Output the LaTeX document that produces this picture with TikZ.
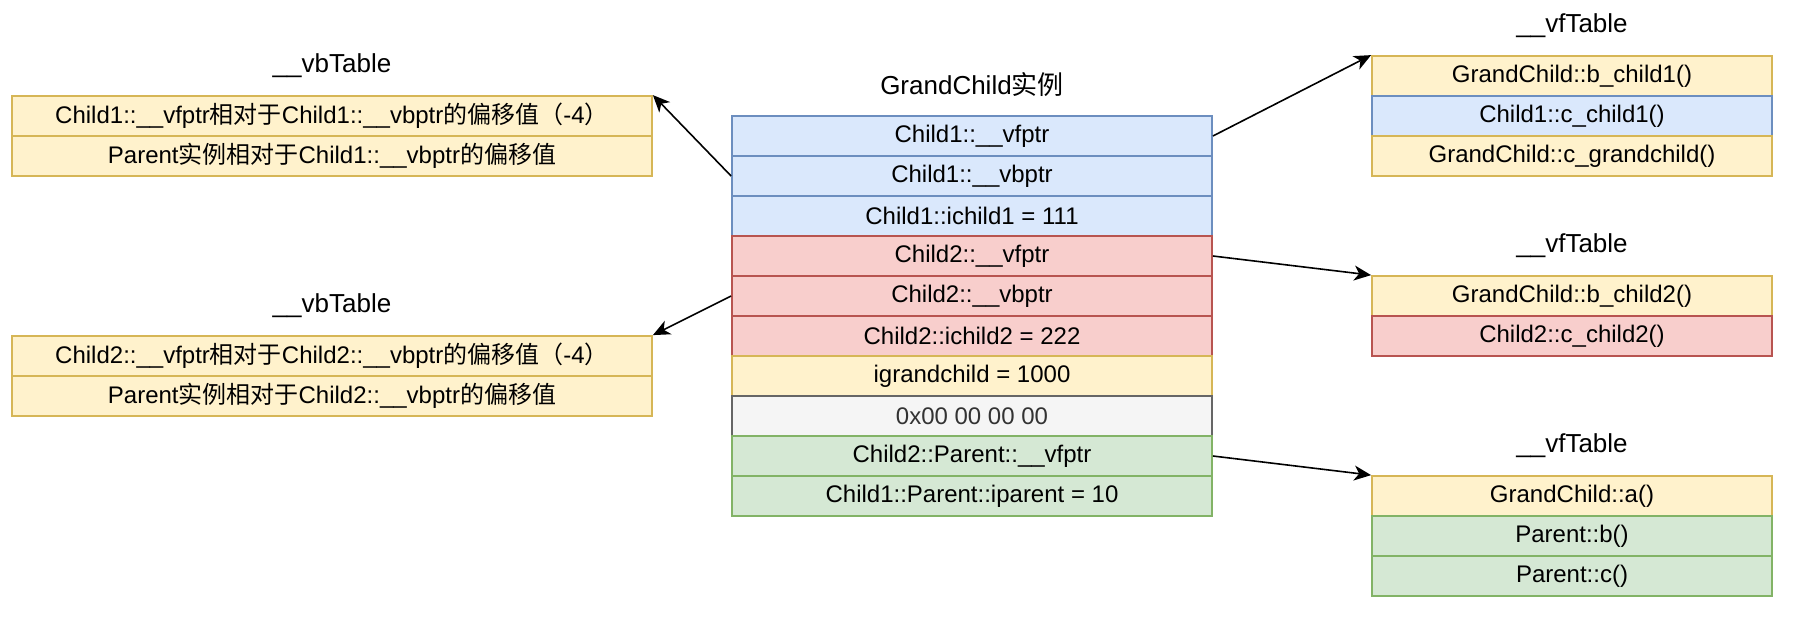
\documentclass[tikz,border=0pt]{standalone}
\usepackage{fontspec}
\setmainfont{Liberation Sans}
\newfontfamily\cjk{Noto Sans CJK SC}
\usetikzlibrary{arrows.meta}
\definecolor{bfill}{HTML}{DAE8FC}\definecolor{bline}{HTML}{6C8EBF}
\definecolor{rfill}{HTML}{F8CECC}\definecolor{rline}{HTML}{B85450}
\definecolor{yfill}{HTML}{FFF2CC}\definecolor{yline}{HTML}{D6B656}
\definecolor{gfill}{HTML}{F5F5F5}\definecolor{gline}{HTML}{666666}\definecolor{gtext}{HTML}{333333}
\definecolor{nfill}{HTML}{D5E8D4}\definecolor{nline}{HTML}{82B366}
\tikzset{
  cell/.style={draw, line width=0.9pt, minimum height=20pt, inner sep=0pt, font=\fontsize{12}{14}\selectfont},
  cblue/.style={cell, fill=bfill, draw=bline},
  cred/.style={cell, fill=rfill, draw=rline},
  cyel/.style={cell, fill=yfill, draw=yline},
  cgray/.style={cell, fill=gfill, draw=gline, text=gtext},
  cgreen/.style={cell, fill=nfill, draw=nline},
  ttl/.style={inner sep=0pt, font=\fontsize{13}{15}\selectfont},
  mid/.style={minimum width=240pt},
  lw/.style={minimum width=320pt},
  rw/.style={minimum width=200pt},
  link/.style={line width=0.8pt, -{Stealth[length=8.5pt, width=7.5pt, inset=2.5pt]}}
}
\begin{document}
\begin{tikzpicture}[x=0.5pt, y=-0.5pt]
\useasboundingbox (0,0) rectangle (1794,618);
% center table
\node[ttl] (tc) at (972,85) {GrandChild{\cjk 实例}};
\node[cblue, mid] (c1) at (972,136) {Child1::\_\_vfptr};
\node[cblue, mid] (c2) at (972,176) {Child1::\_\_vbptr};
\node[cblue, mid] (c3) at (972,216) {Child1::ichild1 = 111};
\node[cred, mid] (c4) at (972,256) {Child2::\_\_vfptr};
\node[cred, mid] (c5) at (972,296) {Child2::\_\_vbptr};
\node[cred, mid] (c6) at (972,336) {Child2::ichild2 = 222};
\node[cyel, mid] (c7) at (972,376) {igrandchild = 1000};
\node[cgray, mid] (c8) at (972,416) {0x00 00 00 00};
\node[cgreen, mid] (c9) at (972,456) {Child2::Parent::\_\_vfptr};
\node[cgreen, mid] (c10) at (972,496) {Child1::Parent::iparent = 10};
% left tables
\node[ttl] (tl1) at (332,66) {\_\_vbTable};
\node[cyel, lw] (l1a) at (332,116) {Child1::\_\_vfptr{\cjk 相对于}Child1::\_\_vbptr{\cjk 的偏移值（}-4{\cjk ）}};
\node[cyel, lw] (l1b) at (332,156) {Parent{\cjk 实例相对于}Child1::\_\_vbptr{\cjk 的偏移值}};
\node[ttl] (tl2) at (332,306) {\_\_vbTable};
\node[cyel, lw] (l2a) at (332,356) {Child2::\_\_vfptr{\cjk 相对于}Child2::\_\_vbptr{\cjk 的偏移值（}-4{\cjk ）}};
\node[cyel, lw] (l2b) at (332,396) {Parent{\cjk 实例相对于}Child2::\_\_vbptr{\cjk 的偏移值}};
% right tables
\node[ttl] (tr1) at (1572,26) {\_\_vfTable};
\node[cyel, rw] (r1a) at (1572,76) {GrandChild::b\_child1()};
\node[cblue, rw] (r1b) at (1572,116) {Child1::c\_child1()};
\node[cyel, rw] (r1c) at (1572,156) {GrandChild::c\_grandchild()};
\node[ttl] (tr2) at (1572,246) {\_\_vfTable};
\node[cyel, rw] (r2a) at (1572,296) {GrandChild::b\_child2()};
\node[cred, rw] (r2b) at (1572,336) {Child2::c\_child2()};
\node[ttl] (tr3) at (1572,446) {\_\_vfTable};
\node[cyel, rw] (r3a) at (1572,496) {GrandChild::a()};
\node[cgreen, rw] (r3b) at (1572,536) {Parent::b()};
\node[cgreen, rw] (r3c) at (1572,576) {Parent::c()};
% arrows
\draw[link] (c2.west) -- (l1a.north east);
\draw[link] (c5.west) -- (l2a.north east);
\draw[link] (c1.east) -- (r1a.north west);
\draw[link] (c4.east) -- (r2a.north west);
\draw[link] (c9.east) -- (r3a.north west);
\end{tikzpicture}
\end{document}
